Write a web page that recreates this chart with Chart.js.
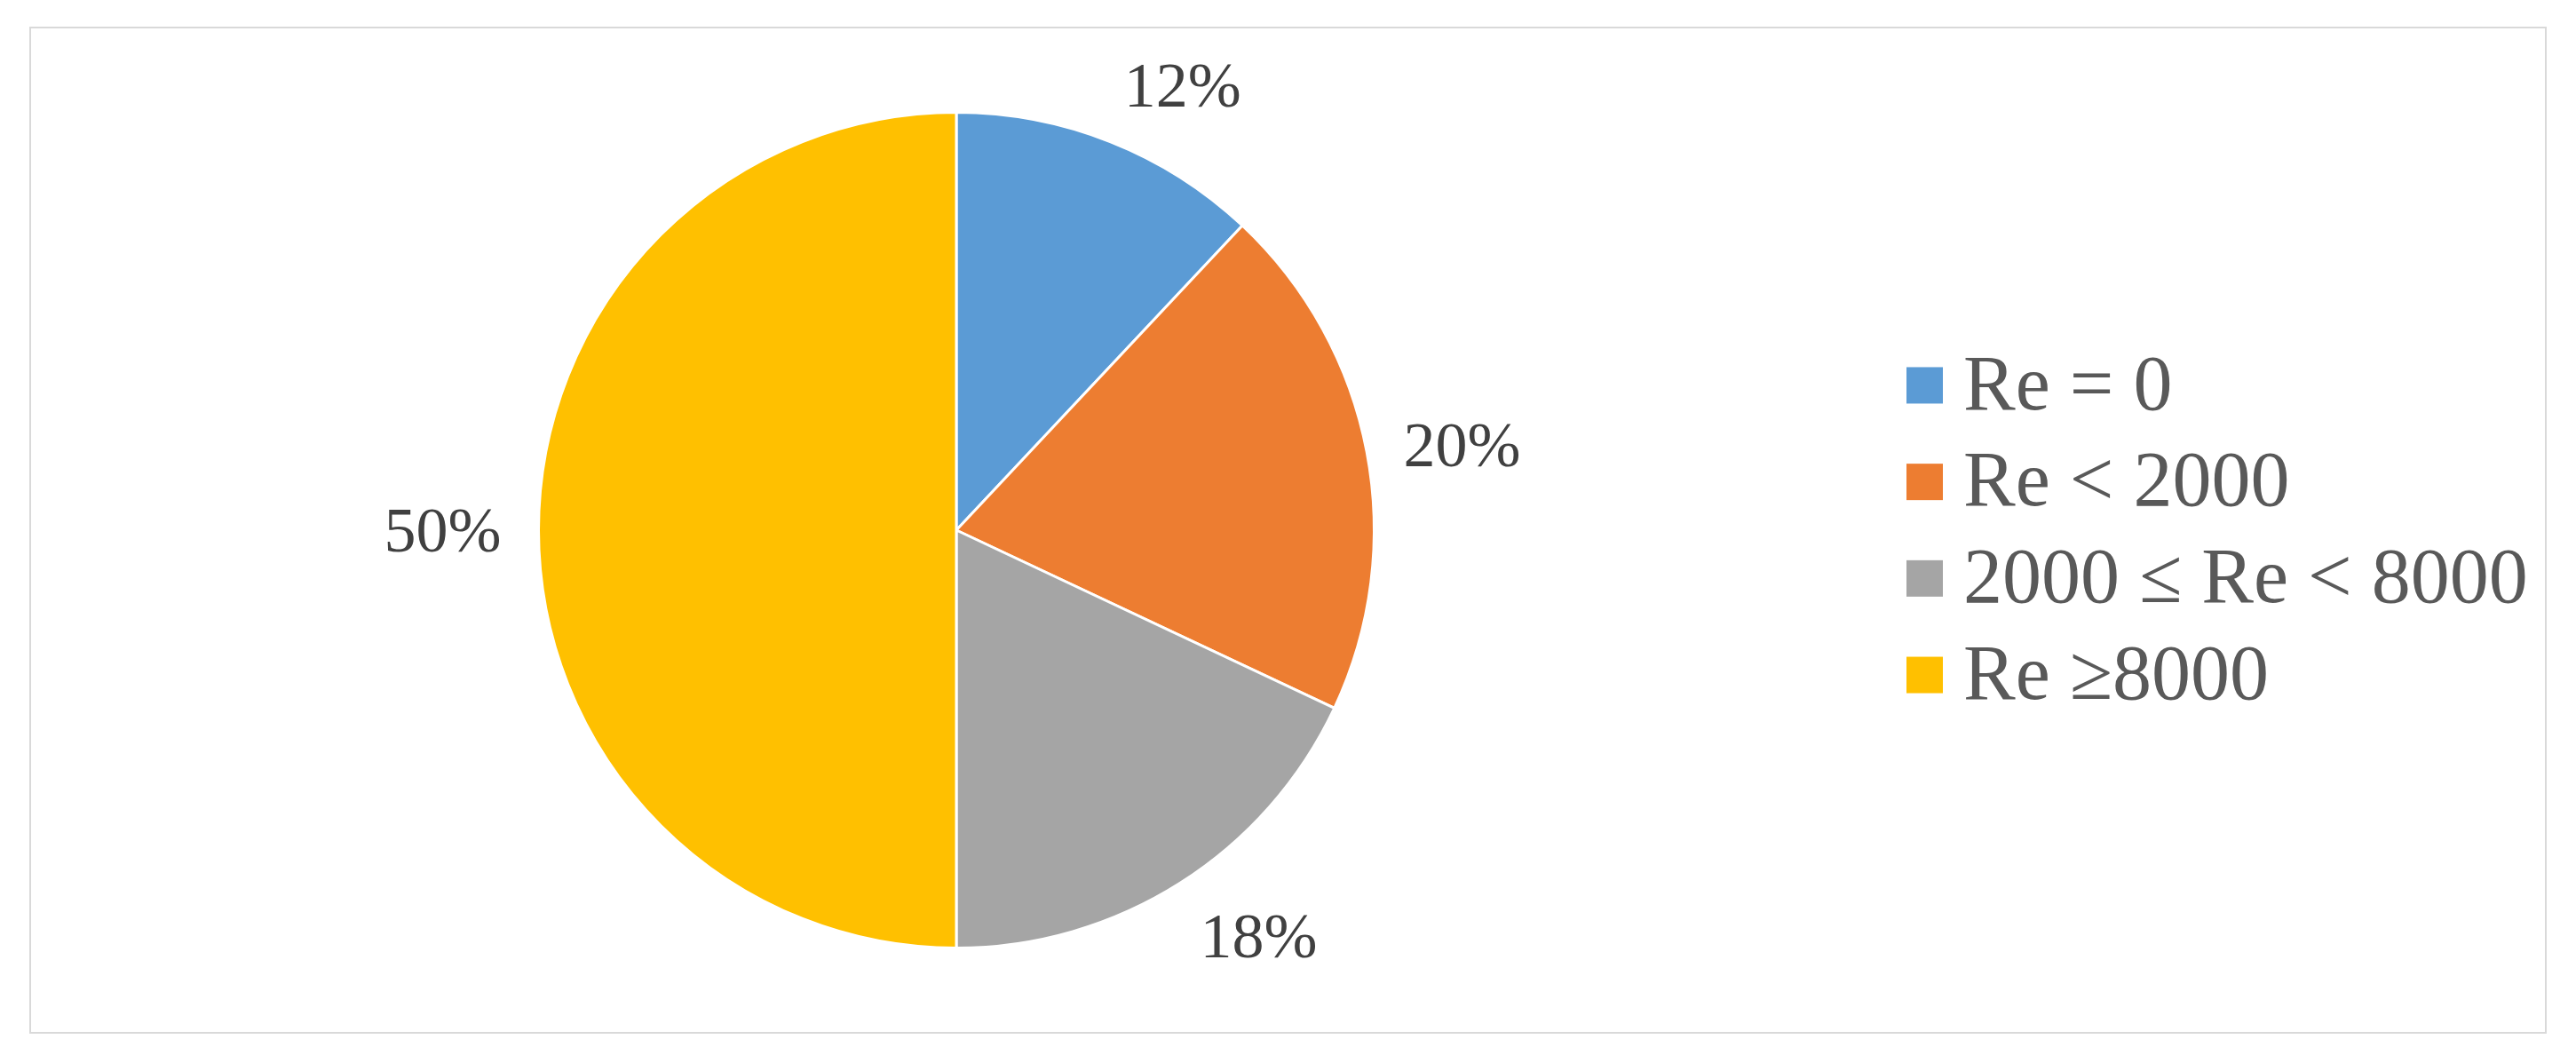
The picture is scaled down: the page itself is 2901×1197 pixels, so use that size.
<!DOCTYPE html>
<html>
<head>
<meta charset="utf-8">
<script src="https://cdn.jsdelivr.net/npm/chart.js@4.4.1/dist/chart.umd.min.js"></script>
<style>
  body { margin: 0; background: #fff; }
  #moldura { position: absolute; left: 33px; top: 30px; width: 2835px; height: 1134px; border: 2px solid #d9d9d9; box-sizing: border-box; }
  #caixa { position: absolute; left: 0; top: 0; width: 2901px; height: 1197px; }
</style>
</head>
<body>
<div id="moldura"></div>
<div id="caixa"><canvas id="g_pizza"></canvas></div>
<script>
const categorias = ['Re = 0', 'Re < 2000', '2000 ≤ Re < 8000', 'Re ≥8000']
const valores = [12, 20, 18, 50]
const cores = ['#5B9BD5', '#ED7D31', '#A5A5A5', '#FFC000']

const fonte = tamanho => `${tamanho}px "Liberation Serif", "Times New Roman", serif`

// rotulos de porcentagem do lado de fora de cada fatia
const rotulos_plugin = {
  id: 'rotulos',
  afterDatasetsDraw(chart, args, opts) {
    const ctx = chart.ctx
    const meta = chart.getDatasetMeta(0)
    const total = valores.reduce((a, b) => a + b, 0)
    ctx.save()
    ctx.fillStyle = opts.cor
    ctx.font = fonte(opts.tamanho)
    ctx.textBaseline = 'alphabetic'
    meta.data.forEach((arco, i) => {
      const p = arco.getProps(['x', 'y', 'startAngle', 'endAngle', 'outerRadius'], true)
      const meio = (p.startAngle + p.endAngle) / 2
      const ux = Math.cos(meio)
      const uy = Math.sin(meio)
      const px = p.x + ux * (p.outerRadius + opts.distancia)
      const py = p.y + uy * (p.outerRadius + opts.distancia)
      const texto = `${Math.round(valores[i] / total * 100)}%`
      const w = ctx.measureText(texto).width
      const h = 0.676 * opts.tamanho
      const ax = Math.abs(ux) < 0.3 ? 0 : Math.sign(ux)
      const ay = Math.abs(uy) < 0.3 ? 0 : Math.sign(uy)
      const cx = px + ax * w / 2
      const cy = py + ay * h / 2
      ctx.fillText(texto, cx - w / 2, cy + h / 2)
    })
    ctx.restore()
  }
}

const legenda_plugin = {
  id: 'legenda_direita',
  afterDraw(chart, args, opts) {
    const ctx = chart.ctx
    const area = chart.chartArea
    const centro_y = (area.top + area.bottom) / 2
    const n = chart.data.labels.length
    ctx.save()
    ctx.font = fonte(opts.tamanho)
    ctx.textBaseline = 'alphabetic'
    chart.data.labels.forEach((rotulo, i) => {
      const y = centro_y + (i - (n - 1) / 2) * opts.espaco
      ctx.fillStyle = chart.data.datasets[0].backgroundColor[i]
      ctx.fillRect(opts.x, y - opts.caixa / 2, opts.caixa, opts.caixa)
      ctx.fillStyle = opts.cor
      const altura = 0.662 * opts.tamanho
      ctx.fillText(rotulo, opts.x + opts.caixa + 23, y + altura / 2 - 2.5)
    })
    ctx.restore()
  }
}

const grafico = new Chart(
  document.getElementById('g_pizza'),
  {
    type: 'pie',
    data: {
      labels: categorias,
      datasets: [{
        data: valores,
        backgroundColor: cores,
        borderColor: '#ffffff',
        borderWidth: 3
      }]
    },
    options: {
      responsive: true,
      maintainAspectRatio: false,
      animation: false,
      layout: {
        padding: { top: 125, bottom: 128, left: 605, right: 1352 }
      },
      plugins: {
        legend: { display: false },
        tooltip: { enabled: false },
        rotulos: { cor: '#404040', tamanho: 72, distancia: 42 },
        legenda_direita: { x: 2147, espaco: 108.7, caixa: 41, tamanho: 88, cor: '#595959' }
      }
    },
    plugins: [rotulos_plugin, legenda_plugin]
  }
)
</script>
</body>
</html>
